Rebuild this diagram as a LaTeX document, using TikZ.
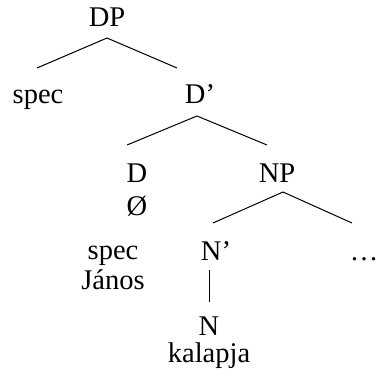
\documentclass[tikz,border=0pt]{standalone}
\usepackage{fontspec}
\setmainfont{Liberation Serif}
\begin{document}
\begin{tikzpicture}[x=1pt,y=-1pt,
  lbl/.style={anchor=base,inner sep=0pt,font=\fontsize{28.5}{31}\selectfont},
  edge/.style={line width=1pt,black}]
\useasboundingbox (0,0) rectangle (378,385);
\node[lbl] (DP) at (107,27) {DP};
\node[lbl] (spec1) at (38,104) {spec};
\node[lbl] (Dbar) at (200,104) {D’};
\node[lbl] (D) at (137,182) {D};
\node[lbl] (NP) at (277,182) {NP};
\node[lbl] (empty) at (137,215) {Ø};
\node[lbl] (spec2) at (113,259) {spec};
\node[lbl] (Nbar) at (216,260) {N’};
\node[lbl] (dots) at (364,260) {…};
\node[lbl] (janos) at (113,289) {János};
\node[lbl] (N) at (209,335) {N};
\node[lbl] (kalapja) at (209,362) {kalapja};
\coordinate (a1) at (107,38);
\coordinate (l1) at (37,68);
\coordinate (r1) at (177,68);
\coordinate (a2) at (197,116);
\coordinate (l2) at (127,145);
\coordinate (r2) at (267,145);
\coordinate (a3) at (283,192);
\coordinate (l3) at (213,223);
\coordinate (r3) at (352,223);
\coordinate (v1) at (209,270);
\coordinate (v2) at (209,302);
\draw[edge] (l1) -- (a1) -- (r1);
\draw[edge] (l2) -- (a2) -- (r2);
\draw[edge] (l3) -- (a3) -- (r3);
\draw[edge] (v1) -- (v2);
\end{tikzpicture}
\end{document}
